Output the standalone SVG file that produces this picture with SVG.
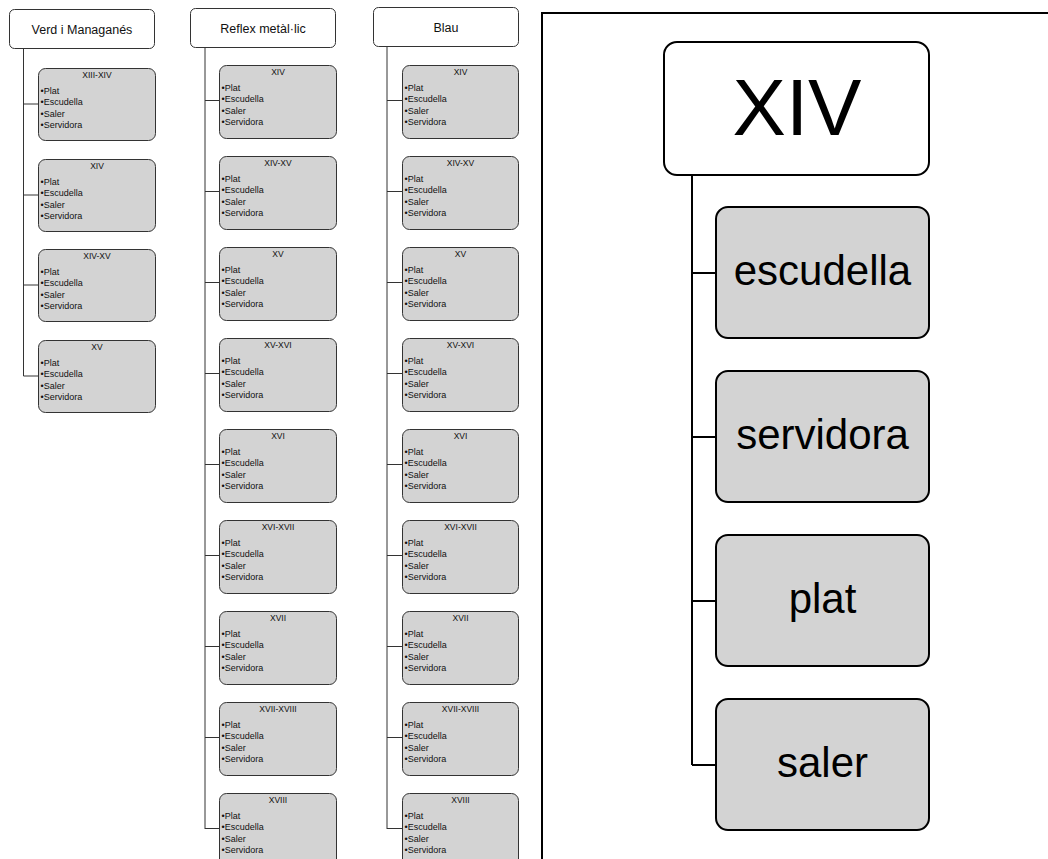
<svg xmlns="http://www.w3.org/2000/svg" width="1048" height="859" viewBox="0 0 1048 859">
<style>
text{font-family:"Liberation Sans",Arial,sans-serif;fill:#111}
.hd rect{fill:#fff;stroke:#333;stroke-width:1}
.hd text{font-size:12.5px;text-anchor:middle}
.sb rect{fill:#d3d3d3;stroke:#333;stroke-width:1}
.sb .t{font-size:8.5px;text-anchor:middle}
.sb .b{font-size:9px}
.con line,.con path{stroke:#333;stroke-width:1;fill:none}
.bigcon path{stroke:#000;stroke-width:2;fill:none}
.big rect{stroke:#000;stroke-width:2}
.big text{font-size:42px;text-anchor:middle;fill:#000}
</style>
<rect x="0" y="0" width="1048" height="859" fill="#fff"/>
<rect x="542" y="13" width="600" height="900" fill="none" stroke="#000" stroke-width="2"/>
<g id="connectors" class="con">
<path d="M23.5 48V376M23.5 104H38M23.5 195H38M23.5 285H38M23.5 376H38"/>
<path d="M205 47V829M205 100.5H219M205 191.5H219M205 282.5H219M205 373.5H219M205 464.5H219M205 555.5H219M205 646.5H219M205 737.5H219M205 828.5H219"/>
<path d="M387 46V829M387 100.5H402M387 191.5H402M387 282.5H402M387 373.5H402M387 464.5H402M387 555.5H402M387 646.5H402M387 737.5H402M387 828.5H402"/>
</g>
<g id="connectors-right" class="bigcon">
<path d="M692 175V765M692 273H716M692 437H716M692 601H716M692 765H716"/>
</g>
<g id="h1" class="hd"><rect x="9.5" y="9.5" width="145" height="39" rx="5"/><text x="82" y="34">Verd i Managanés</text></g>
<g id="h2" class="hd"><rect x="190.5" y="8.5" width="145" height="39" rx="5"/><text x="263" y="33">Reflex metàl·lic</text></g>
<g id="h3" class="hd"><rect x="373.5" y="7.5" width="145" height="39" rx="5"/><text x="446" y="32">Blau</text></g>

<g id="c1-1" class="sb" transform="translate(38.5,68.5)"><rect width="117" height="72" rx="7"/><text class="t" x="58.5" y="9">XIII-XIV</text><text class="b" x="2" y="25">•Plat</text><text class="b" x="2" y="36.5">•Escudella</text><text class="b" x="2" y="48">•Saler</text><text class="b" x="2" y="59.5">•Servidora</text></g>
<g id="c1-2" class="sb" transform="translate(38.5,159.5)"><rect width="117" height="72" rx="7"/><text class="t" x="58.5" y="9">XIV</text><text class="b" x="2" y="25">•Plat</text><text class="b" x="2" y="36.5">•Escudella</text><text class="b" x="2" y="48">•Saler</text><text class="b" x="2" y="59.5">•Servidora</text></g>
<g id="c1-3" class="sb" transform="translate(38.5,249.5)"><rect width="117" height="72" rx="7"/><text class="t" x="58.5" y="9">XIV-XV</text><text class="b" x="2" y="25">•Plat</text><text class="b" x="2" y="36.5">•Escudella</text><text class="b" x="2" y="48">•Saler</text><text class="b" x="2" y="59.5">•Servidora</text></g>
<g id="c1-4" class="sb" transform="translate(38.5,340.5)"><rect width="117" height="72" rx="7"/><text class="t" x="58.5" y="9">XV</text><text class="b" x="2" y="25">•Plat</text><text class="b" x="2" y="36.5">•Escudella</text><text class="b" x="2" y="48">•Saler</text><text class="b" x="2" y="59.5">•Servidora</text></g>

<g id="c2-1" class="sb" transform="translate(219.5,65.5)"><rect width="117" height="73" rx="7"/><text class="t" x="58.5" y="9">XIV</text><text class="b" x="2" y="25">•Plat</text><text class="b" x="2" y="36.5">•Escudella</text><text class="b" x="2" y="48">•Saler</text><text class="b" x="2" y="59.5">•Servidora</text></g>
<g id="c2-2" class="sb" transform="translate(219.5,156.5)"><rect width="117" height="73" rx="7"/><text class="t" x="58.5" y="9">XIV-XV</text><text class="b" x="2" y="25">•Plat</text><text class="b" x="2" y="36.5">•Escudella</text><text class="b" x="2" y="48">•Saler</text><text class="b" x="2" y="59.5">•Servidora</text></g>
<g id="c2-3" class="sb" transform="translate(219.5,247.5)"><rect width="117" height="73" rx="7"/><text class="t" x="58.5" y="9">XV</text><text class="b" x="2" y="25">•Plat</text><text class="b" x="2" y="36.5">•Escudella</text><text class="b" x="2" y="48">•Saler</text><text class="b" x="2" y="59.5">•Servidora</text></g>
<g id="c2-4" class="sb" transform="translate(219.5,338.5)"><rect width="117" height="73" rx="7"/><text class="t" x="58.5" y="9">XV-XVI</text><text class="b" x="2" y="25">•Plat</text><text class="b" x="2" y="36.5">•Escudella</text><text class="b" x="2" y="48">•Saler</text><text class="b" x="2" y="59.5">•Servidora</text></g>
<g id="c2-5" class="sb" transform="translate(219.5,429.5)"><rect width="117" height="73" rx="7"/><text class="t" x="58.5" y="9">XVI</text><text class="b" x="2" y="25">•Plat</text><text class="b" x="2" y="36.5">•Escudella</text><text class="b" x="2" y="48">•Saler</text><text class="b" x="2" y="59.5">•Servidora</text></g>
<g id="c2-6" class="sb" transform="translate(219.5,520.5)"><rect width="117" height="73" rx="7"/><text class="t" x="58.5" y="9">XVI-XVII</text><text class="b" x="2" y="25">•Plat</text><text class="b" x="2" y="36.5">•Escudella</text><text class="b" x="2" y="48">•Saler</text><text class="b" x="2" y="59.5">•Servidora</text></g>
<g id="c2-7" class="sb" transform="translate(219.5,611.5)"><rect width="117" height="73" rx="7"/><text class="t" x="58.5" y="9">XVII</text><text class="b" x="2" y="25">•Plat</text><text class="b" x="2" y="36.5">•Escudella</text><text class="b" x="2" y="48">•Saler</text><text class="b" x="2" y="59.5">•Servidora</text></g>
<g id="c2-8" class="sb" transform="translate(219.5,702.5)"><rect width="117" height="73" rx="7"/><text class="t" x="58.5" y="9">XVII-XVIII</text><text class="b" x="2" y="25">•Plat</text><text class="b" x="2" y="36.5">•Escudella</text><text class="b" x="2" y="48">•Saler</text><text class="b" x="2" y="59.5">•Servidora</text></g>
<g id="c2-9" class="sb" transform="translate(219.5,793.5)"><rect width="117" height="73" rx="7"/><text class="t" x="58.5" y="9">XVIII</text><text class="b" x="2" y="25">•Plat</text><text class="b" x="2" y="36.5">•Escudella</text><text class="b" x="2" y="48">•Saler</text><text class="b" x="2" y="59.5">•Servidora</text></g>

<g id="c3-1" class="sb" transform="translate(402.5,65.5)"><rect width="116" height="73" rx="7"/><text class="t" x="58" y="9">XIV</text><text class="b" x="2" y="25">•Plat</text><text class="b" x="2" y="36.5">•Escudella</text><text class="b" x="2" y="48">•Saler</text><text class="b" x="2" y="59.5">•Servidora</text></g>
<g id="c3-2" class="sb" transform="translate(402.5,156.5)"><rect width="116" height="73" rx="7"/><text class="t" x="58" y="9">XIV-XV</text><text class="b" x="2" y="25">•Plat</text><text class="b" x="2" y="36.5">•Escudella</text><text class="b" x="2" y="48">•Saler</text><text class="b" x="2" y="59.5">•Servidora</text></g>
<g id="c3-3" class="sb" transform="translate(402.5,247.5)"><rect width="116" height="73" rx="7"/><text class="t" x="58" y="9">XV</text><text class="b" x="2" y="25">•Plat</text><text class="b" x="2" y="36.5">•Escudella</text><text class="b" x="2" y="48">•Saler</text><text class="b" x="2" y="59.5">•Servidora</text></g>
<g id="c3-4" class="sb" transform="translate(402.5,338.5)"><rect width="116" height="73" rx="7"/><text class="t" x="58" y="9">XV-XVI</text><text class="b" x="2" y="25">•Plat</text><text class="b" x="2" y="36.5">•Escudella</text><text class="b" x="2" y="48">•Saler</text><text class="b" x="2" y="59.5">•Servidora</text></g>
<g id="c3-5" class="sb" transform="translate(402.5,429.5)"><rect width="116" height="73" rx="7"/><text class="t" x="58" y="9">XVI</text><text class="b" x="2" y="25">•Plat</text><text class="b" x="2" y="36.5">•Escudella</text><text class="b" x="2" y="48">•Saler</text><text class="b" x="2" y="59.5">•Servidora</text></g>
<g id="c3-6" class="sb" transform="translate(402.5,520.5)"><rect width="116" height="73" rx="7"/><text class="t" x="58" y="9">XVI-XVII</text><text class="b" x="2" y="25">•Plat</text><text class="b" x="2" y="36.5">•Escudella</text><text class="b" x="2" y="48">•Saler</text><text class="b" x="2" y="59.5">•Servidora</text></g>
<g id="c3-7" class="sb" transform="translate(402.5,611.5)"><rect width="116" height="73" rx="7"/><text class="t" x="58" y="9">XVII</text><text class="b" x="2" y="25">•Plat</text><text class="b" x="2" y="36.5">•Escudella</text><text class="b" x="2" y="48">•Saler</text><text class="b" x="2" y="59.5">•Servidora</text></g>
<g id="c3-8" class="sb" transform="translate(402.5,702.5)"><rect width="116" height="73" rx="7"/><text class="t" x="58" y="9">XVII-XVIII</text><text class="b" x="2" y="25">•Plat</text><text class="b" x="2" y="36.5">•Escudella</text><text class="b" x="2" y="48">•Saler</text><text class="b" x="2" y="59.5">•Servidora</text></g>
<g id="c3-9" class="sb" transform="translate(402.5,793.5)"><rect width="116" height="73" rx="7"/><text class="t" x="58" y="9">XVIII</text><text class="b" x="2" y="25">•Plat</text><text class="b" x="2" y="36.5">•Escudella</text><text class="b" x="2" y="48">•Saler</text><text class="b" x="2" y="59.5">•Servidora</text></g>

<g id="r-root" class="big"><rect x="664" y="42" width="265" height="133" rx="13" fill="#fff"/><text x="797" y="135" style="font-size:80px">XIV</text></g>
<g id="r-escudella" class="big"><rect x="716" y="207" width="213" height="131" rx="12" fill="#d3d3d3"/><text x="822.5" y="285">escudella</text></g>
<g id="r-servidora" class="big"><rect x="716" y="371" width="213" height="131" rx="12" fill="#d3d3d3"/><text x="822.5" y="449">servidora</text></g>
<g id="r-plat" class="big"><rect x="716" y="535" width="213" height="131" rx="12" fill="#d3d3d3"/><text x="822.5" y="613">plat</text></g>
<g id="r-saler" class="big"><rect x="716" y="699" width="213" height="131" rx="12" fill="#d3d3d3"/><text x="822.5" y="777">saler</text></g>
</svg>
